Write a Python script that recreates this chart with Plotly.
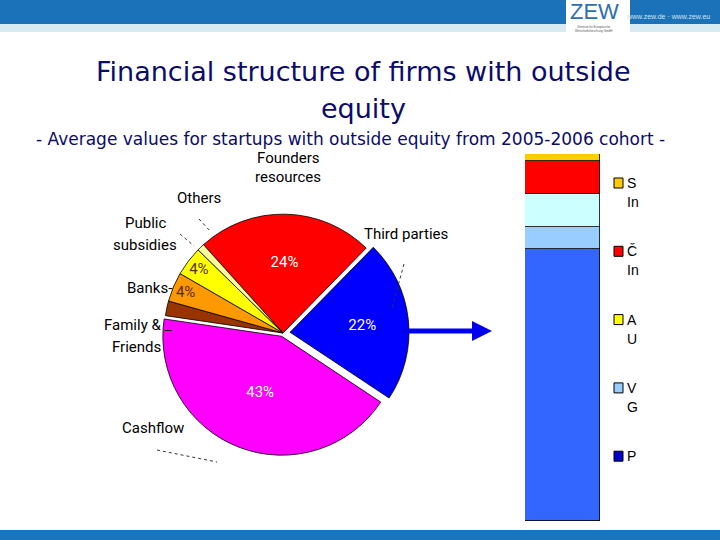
import plotly.graph_objects as go

# ---------------- data ----------------
pie_labels = ["Founders resources", "Third parties", "Cashflow", "Family & Friends",
              "Banks", "Public subsidies", "Others"]
pie_values = [24, 22, 43, 2, 4, 4, 1]
pie_colors = ["#FF0000", "#0000FF", "#FF00FF", "#993300", "#FF9900", "#FFFF00", "#FFFF99"]
pie_pull = [0, 0.06, 0.03, 0, 0, 0, 0]

bar_series = ["P", "V", "cyan", "Č", "S"]          # bottom -> top
bar_values = [74, 6, 9, 9, 2]
bar_colors = ["#3366FF", "#99CCFF", "#CCFFFF", "#FF0000", "#FFCC00"]

legend_colors = ["#FFCC00", "#FF0000", "#FFFF00", "#99CCFF", "#0000CC"]
legend_line1 = ["S", "Č", "A", "V", "P"]
legend_line2 = ["In", "In", "U", "G", ""]

W, H = 720, 540
NARROW = "Roboto, Liberation Sans Narrow, sans-serif"
NAVY = "#0b0b6b"


def px(x):
    return x / W


def py(y):
    return 1 - y / H


fig = go.Figure()

# ---------------- pie ----------------
pie_text = [f"{v}%" if v >= 4 else "" for v in pie_values]
pie_text_colors = ["white" if v >= 10 else "#5a2a00" for v in pie_values]
cx, cy, half = 283, 333, 126
fig.add_trace(go.Pie(
    labels=pie_labels, values=pie_values, sort=False, direction="clockwise",
    rotation=-42, pull=pie_pull, text=pie_text, textinfo="text",
    textposition="inside", insidetextorientation="horizontal",
    insidetextfont=dict(color=pie_text_colors, size=15, family=NARROW),
    marker=dict(colors=pie_colors, line=dict(color="black", width=0.8)),
    domain=dict(x=[px(cx - half), px(cx + half)], y=[py(cy + half), py(cy - half)]),
    showlegend=False, hoverinfo="label+percent",
))

# ---------------- stacked bar ----------------
for name, val, col in zip(bar_series, bar_values, bar_colors):
    fig.add_trace(go.Bar(
        x=["cohort"], y=[val], name=name, marker=dict(color=col, line=dict(color="black", width=0.8)),
        xaxis="x2", yaxis="y2", showlegend=False, hoverinfo="name+y",
    ))

fig.update_layout(
    width=W, height=H, margin=dict(l=0, r=0, t=0, b=0),
    paper_bgcolor="white", plot_bgcolor="white",
    barmode="stack", bargap=0,
    xaxis2=dict(domain=[px(525), px(600)], visible=False, anchor="y2"),
    yaxis2=dict(domain=[py(521), py(154)], range=[0, 100], visible=False, anchor="x2"),
    xaxis=dict(visible=False), yaxis=dict(visible=False),
)

shapes = []
annotations = []


def note(text, x, y, size, color, family, xanchor="center"):
    annotations.append(dict(text=text, x=px(x), y=py(y), xref="paper", yref="paper", showarrow=False,
                            xanchor=xanchor, yanchor="middle",
                            font=dict(size=size, color=color, family=family)))


# header / footer decoration
shapes.append(dict(type="rect", xref="paper", yref="paper", x0=0, x1=1, y0=py(24), y1=1,
                   fillcolor="#1b72b8", line=dict(width=0), layer="below"))
shapes.append(dict(type="rect", xref="paper", yref="paper", x0=0, x1=1, y0=py(32), y1=py(24),
                   fillcolor="#d6ebf2", line=dict(width=0), layer="below"))
shapes.append(dict(type="rect", xref="paper", yref="paper", x0=px(566), x1=px(630), y0=py(33), y1=1,
                   fillcolor="white", line=dict(width=0), layer="below"))
shapes.append(dict(type="rect", xref="paper", yref="paper", x0=0, x1=1, y0=0, y1=py(530),
                   fillcolor="#1b75bc", line=dict(width=0), layer="below"))
note("ZEW", 594, 11, 22, "#2a6fae", "Liberation Sans, Arial")
note("Zentrum für Europäische<br>Wirtschaftsforschung GmbH", 594, 29, 3, "#555555", "Liberation Sans")
note("www.zew.de · www.zew.eu", 668, 16, 7, "#cfe3f3", "Liberation Sans")

# titles
TITLE_FONT = "DejaVu Sans, sans-serif"
note("Financial structure of firms with outside", 363, 71, 27, NAVY, TITLE_FONT)
note("equity", 363, 109, 27, NAVY, TITLE_FONT)
note("- Average values for startups with outside equity from 2005-2006 cohort -", 350, 139, 17, NAVY,
     TITLE_FONT)

# pie outside labels: (text, x, y, anchor)
labels_out = [
    ("Founders", 288, 158, "center"), ("resources", 288, 177, "center"), ("Others", 199, 198, "center"),
    ("Public", 145, 223, "center"), ("subsidies", 145, 245, "center"), ("Banks-", 174, 288, "right"),
    ("Family &amp; _", 174, 325, "right"), ("Friends", 163, 347, "right"),
    ("Third parties", 406, 234, "center"), ("Cashflow", 153, 428, "center"),
]
for t, x, y, anc in labels_out:
    note(t, x, y, 15, "black", NARROW, anc)

# dotted leader lines
for (x0, y0, x1, y1) in [(199, 219, 211, 232), (180, 234, 194, 246), (404, 264, 392, 308),
                         (157, 450, 217, 462)]:
    shapes.append(dict(type="line", xref="paper", yref="paper", x0=px(x0), y0=py(y0), x1=px(x1), y1=py(y1),
                       line=dict(color="#333333", width=1, dash="dot")))

# arrow
annotations.append(dict(text="", x=px(492), y=py(331), ax=-94, ay=0, xref="paper", yref="paper",
                        showarrow=True, arrowhead=2, arrowsize=0.8,
                        arrowwidth=5, arrowcolor="#0000EE"))

# legend of stacked bar (cropped in original)
for i, (c, l1, l2) in enumerate(zip(legend_colors, legend_line1, legend_line2)):
    yc = 183 + i * 68.3
    shapes.append(dict(type="rect", xref="paper", yref="paper", x0=px(614), x1=px(623),
                       y0=py(yc + 5), y1=py(yc - 5), fillcolor=c, line=dict(color="black", width=1)))
    note(l1, 625, yc, 14, "black", "Liberation Sans", "left")
    if l2:
        note(l2, 625, yc + 19, 14, "black", "Liberation Sans", "left")

fig.update_layout(shapes=shapes, annotations=annotations)
fig.write_html("out.html", config={"displayModeBar": False},
               post_script="document.body.style.margin='0';")
